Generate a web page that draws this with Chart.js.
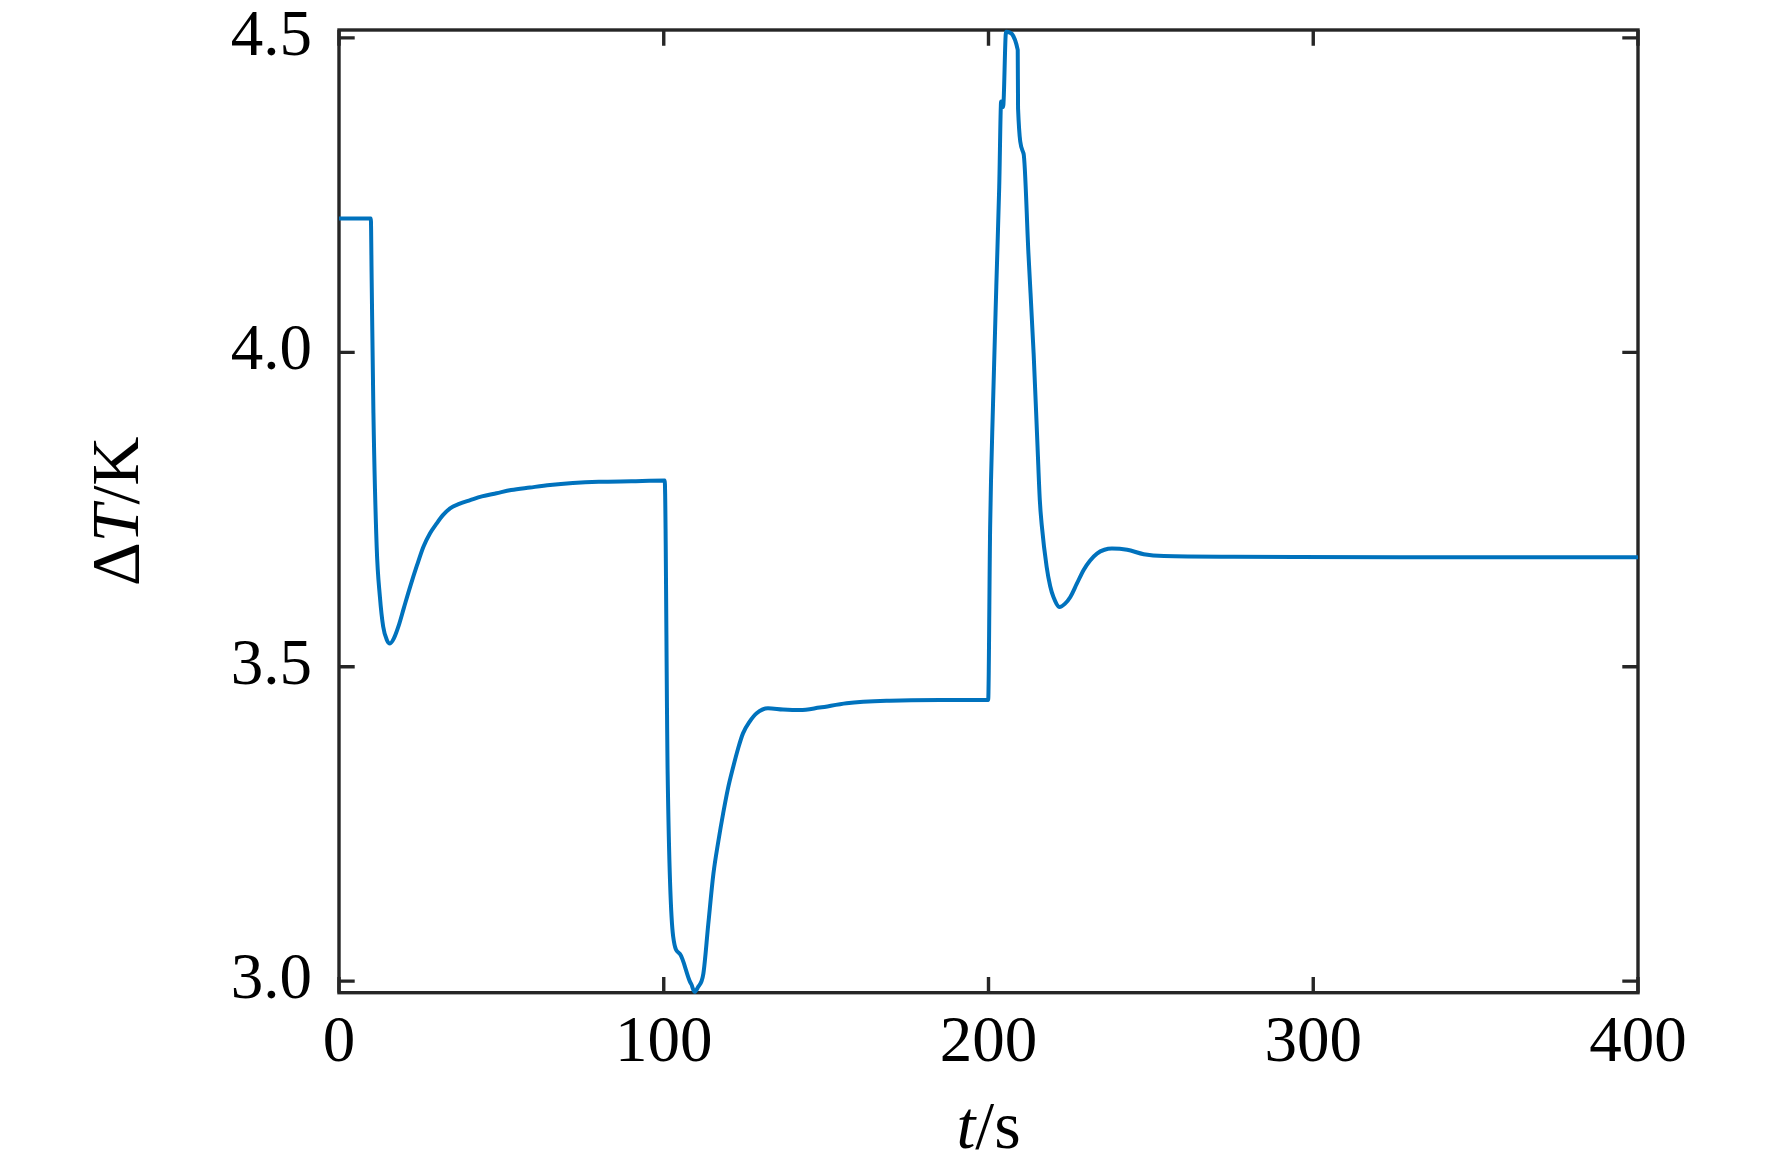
<!DOCTYPE html>
<html>
<head>
<meta charset="utf-8">
<script src="https://cdn.jsdelivr.net/npm/chart.js@4"></script>
<style>
  html, body { margin: 0; padding: 0; background: #ffffff; }
  #wrap { width: 1772px; height: 1169px; }
</style>
</head>
<body>
<div id="wrap"><canvas id="c" width="1772" height="1169"></canvas></div>
<script>
// ---- data ----
const timeS = [
  0, 9.8, 10.06, 10.6, 11.6, 12.6, 13.6, 14.7, 15.7, 16.9, 18.3, 20.0, 21.9, 24.0, 26.0, 28.0,
  30.1, 32.0, 34.2, 37.0, 40.4, 44.0, 48.5, 53.0, 58.8, 65, 72, 80, 90, 100.3,
  101.2, 102.9, 105.0, 108.0, 108.5, 109.5, 110.5, 112.2, 113.7, 115.3, 116.8, 118.3, 119.8,
  121.4, 122.9, 124.4, 126.5, 128.6, 132.1, 136.7, 141.9, 148, 156.3, 169.6, 185, 199.9,
  200.5, 201.4, 202.4, 203.3, 203.9, 204.3, 204.5, 205.4, 209.0, 209.1,
  210.8, 212.3, 213.9, 215.1, 215.8, 216.4, 217.9, 219.0, 220.0, 221.9, 223.5, 225.2,
  227.2, 229.3, 231.3, 233.4, 235.7, 238.0, 242.7, 247.8, 254.0, 275.5, 326.7, 400
];
const deltaT = [
  4.213, 4.213, 4.115, 3.903, 3.691, 3.611, 3.564, 3.543, 3.537, 3.545, 3.564, 3.594, 3.627, 3.661, 3.691, 3.712,
  3.728, 3.741, 3.752, 3.759, 3.765, 3.771, 3.776, 3.781, 3.785, 3.789, 3.792, 3.794, 3.795, 3.796,
  3.330, 3.071, 3.043, 3.000, 2.995, 2.983, 2.990, 3.012, 3.090, 3.171, 3.222, 3.267, 3.307,
  3.341, 3.370, 3.394, 3.413, 3.426, 3.434, 3.432, 3.431, 3.435, 3.442, 3.446, 3.447, 3.447,
  3.720, 3.919, 4.104, 4.263, 4.399, 4.395, 4.390, 4.510, 4.481, 4.388,
  4.316, 4.157, 3.998, 3.850, 3.765, 3.725, 3.659, 3.628, 3.611, 3.595, 3.600, 3.611,
  3.632, 3.654, 3.669, 3.680, 3.686, 3.688, 3.686, 3.679, 3.676, 3.675, 3.674, 3.674
];
const xTicks = [0, 100, 200, 300, 400];
const xTickLabels = ['0', '100', '200', '300', '400'];
const yTicks = [3.0, 3.5, 4.0, 4.5];
const yTickLabels = ['3.0', '3.5', '4.0', '4.5'];
const xRange = [0, 400];
const yRange = [2.9816, 4.5126];

// ---- styling ----
const AXIS_COLOR = '#262626';
const LINE_COLOR = '#0072BD';
const FONT = '"Liberation Serif", "Times New Roman", serif';
const TICK_LEN = 15.7;

const points = timeS.map((t, i) => ({ x: t, y: deltaT[i] }));

const boxPlugin = {
  id: 'matlabBox',
  beforeDatasetsDraw(chart) {
    const { ctx, chartArea: a, scales } = chart;
    ctx.save();
    ctx.strokeStyle = AXIS_COLOR;
    ctx.lineWidth = 3.4;
    ctx.lineCap = 'square';
    ctx.strokeRect(a.left, a.top, a.right - a.left, a.bottom - a.top);
    ctx.lineCap = 'butt';
    ctx.beginPath();
    scales.x.ticks.forEach(tk => {
      const px = scales.x.getPixelForValue(tk.value);
      ctx.moveTo(px, a.bottom); ctx.lineTo(px, a.bottom - TICK_LEN);
      ctx.moveTo(px, a.top); ctx.lineTo(px, a.top + TICK_LEN);
    });
    scales.y.ticks.forEach(tk => {
      const py = scales.y.getPixelForValue(tk.value);
      ctx.moveTo(a.left, py); ctx.lineTo(a.left + TICK_LEN, py);
      ctx.moveTo(a.right, py); ctx.lineTo(a.right - TICK_LEN, py);
    });
    ctx.stroke();
    ctx.restore();
  },
  afterDraw(chart) {
    const { ctx, chartArea: a } = chart;
    const size = 68;
    const drawParts = (parts, cx, cy, rotate) => {
      ctx.save();
      ctx.translate(cx, cy);
      if (rotate) ctx.rotate(-Math.PI / 2);
      ctx.fillStyle = '#000';
      ctx.textBaseline = 'alphabetic';
      ctx.textAlign = 'left';
      let total = 0;
      parts.forEach(p => { ctx.font = (p.italic ? 'italic ' : '') + size + 'px ' + FONT; total += ctx.measureText(p.text).width; });
      let x = -total / 2;
      parts.forEach(p => {
        ctx.font = (p.italic ? 'italic ' : '') + size + 'px ' + FONT;
        ctx.fillText(p.text, x, 0);
        x += ctx.measureText(p.text).width;
      });
      ctx.restore();
    };
    // x title
    drawParts([{ text: 't', italic: true }, { text: '/s' }], (a.left + a.right) / 2, 1148, false);
    // y title
    drawParts([{ text: 'Δ' }, { text: 'T', italic: true }, { text: '/K' }], 138, (a.top + a.bottom) / 2, true);
  }
};

new Chart(document.getElementById('c'), {
  type: 'line',
  data: {
    datasets: [{
      data: points,
      borderColor: LINE_COLOR,
      borderWidth: 4,
      pointRadius: 0,
      fill: false,
      cubicInterpolationMode: 'monotone',
      clip: 6
    }]
  },
  options: {
    responsive: false,
    animation: false,
    events: [],
    layout: { padding: { left: 0, right: 134, top: 30, bottom: 0 } },
    plugins: { legend: { display: false }, tooltip: { enabled: false }, title: { display: false } },
    scales: {
      x: {
        type: 'linear',
        min: xRange[0], max: xRange[1],
        grid: { display: false },
        border: { display: false },
        afterBuildTicks: s => { s.ticks = xTicks.map(v => ({ value: v })); },
        afterFit: s => { s.height = 176.3; s.paddingLeft = 0; s.paddingRight = 0; },
        ticks: {
          color: '#000',
          font: { family: FONT, size: 65 },
          padding: 4,
          maxRotation: 0,
          autoSkip: false,
          callback: (v) => xTickLabels[xTicks.indexOf(v)]
        }
      },
      y: {
        type: 'linear',
        min: yRange[0], max: yRange[1],
        grid: { display: false },
        border: { display: false },
        afterBuildTicks: s => { s.ticks = yTicks.map(v => ({ value: v })); },
        afterFit: s => { s.width = 339; s.paddingTop = 0; s.paddingBottom = 0; },
        ticks: {
          color: '#000',
          font: { family: FONT, size: 65 },
          padding: 19,
          autoSkip: false,
          callback: (v) => yTickLabels[yTicks.indexOf(v)]
        }
      }
    }
  },
  plugins: [boxPlugin]
});
</script>
</body>
</html>
